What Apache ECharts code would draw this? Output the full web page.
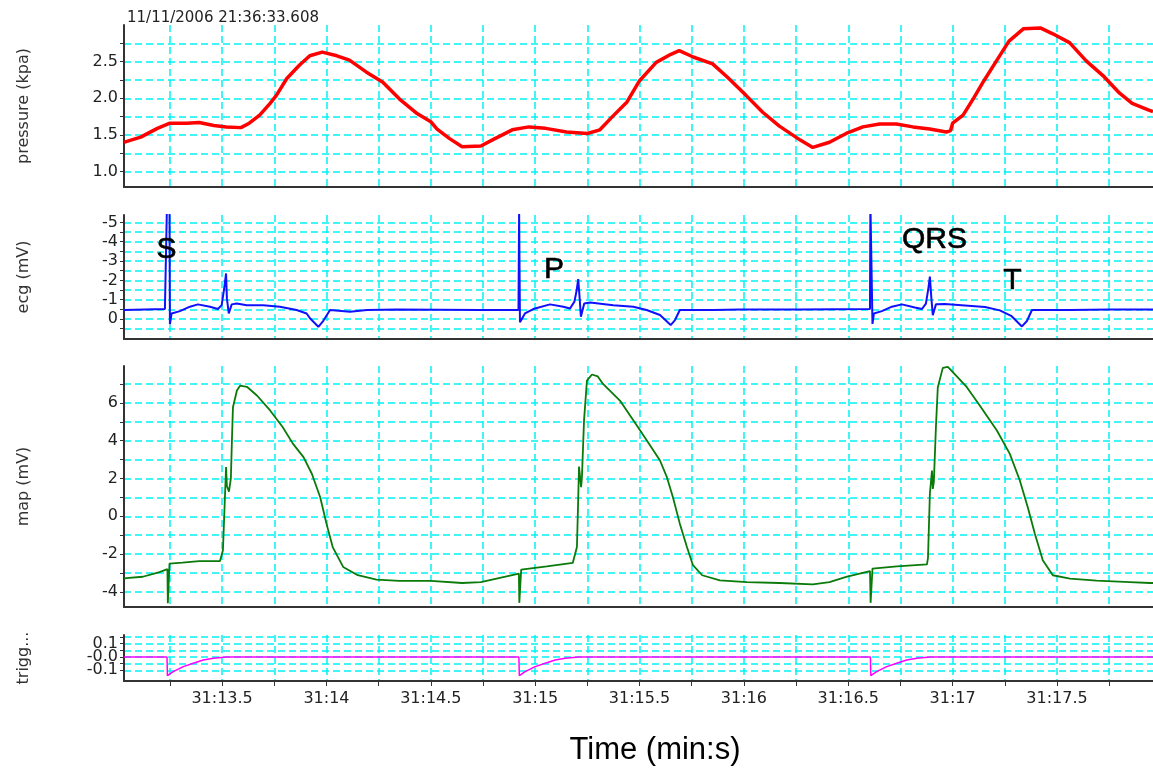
<!DOCTYPE html>
<html>
<head>
<meta charset="utf-8">
<script src="https://cdn.jsdelivr.net/npm/echarts@6/dist/echarts.min.js"></script>
<style>html,body{margin:0;padding:0;background:#fff}#c{width:1153px;height:770px}</style>
</head>
<body>
<div id="c"></div>
<script>
// ---- DATA (time in seconds after 31:00) ----
const timeMin = 13.03, timeMax = 17.96;
const timeGrid = [13.25,13.5,13.75,14,14.25,14.5,14.75,15,15.25,15.5,15.75,16,16.25,16.5,16.75,17,17.25,17.5,17.75];
const timeLabelValues = [13.5,14,14.5,15,15.5,16,16.5,17,17.5];
const timeLabelTexts = ['31:13.5','31:14','31:14.5','31:15','31:15.5','31:16','31:16.5','31:17','31:17.5'];

const pressureTicks = [1,1.25,1.5,1.75,2,2.25,2.5,2.75];
const pressureLabels = [1,1.5,2,2.5];
const ecgTicks = [-5,-4.5,-4,-3.5,-3,-2.5,-2,-1.5,-1,-0.5,0,0.5];
const ecgLabels = [-5,-4,-3,-2,-1,0];
const mapTicks = [-4,-3,-2,-1,0,1,2,3,4,5,6,7];
const mapLabels = [-4,-2,0,2,4,6];
const trigTicks = [0.15,0.1,0.05,0,-0.05,-0.1];
const trigOuterLabels = [0.1,-0.1];
const trigOuterTexts = ['0.1','-0.1'];
const trigMidLabels = [0];
const trigMidTexts = ['-0.0'];

const pressurePoints = [[13.03,1.40],[13.04,1.41],[13.11,1.47],[13.19,1.59],[13.25,1.66],[13.33,1.66],[13.39,1.67],[13.46,1.63],[13.52,1.61],[13.59,1.60],[13.63,1.66],[13.68,1.77],[13.73,1.93],[13.76,2.04],[13.81,2.27],[13.87,2.45],[13.92,2.58],[13.98,2.63],[14.05,2.58],[14.11,2.52],[14.19,2.36],[14.27,2.22],[14.35,1.99],[14.43,1.80],[14.50,1.68],[14.53,1.58],[14.59,1.45],[14.65,1.34],[14.74,1.35],[14.80,1.44],[14.89,1.57],[14.97,1.61],[15.05,1.59],[15.15,1.54],[15.25,1.52],[15.31,1.57],[15.37,1.75],[15.44,1.95],[15.50,2.24],[15.58,2.49],[15.65,2.60],[15.69,2.65],[15.76,2.56],[15.85,2.47],[15.92,2.29],[16.01,2.04],[16.09,1.81],[16.17,1.62],[16.27,1.43],[16.33,1.33],[16.41,1.40],[16.49,1.52],[16.57,1.61],[16.65,1.65],[16.73,1.65],[16.81,1.61],[16.89,1.58],[16.97,1.54],[16.99,1.56],[17.00,1.66],[17.05,1.77],[17.10,2.00],[17.15,2.24],[17.21,2.51],[17.27,2.78],[17.34,2.95],[17.42,2.96],[17.48,2.88],[17.56,2.76],[17.64,2.51],[17.72,2.31],[17.80,2.07],[17.86,1.93],[17.94,1.84],[17.96,1.82]];

const ecgPoints = [[13.03,-0.47],[13.226,-0.52],[13.234,-0.52],[13.236,-6],[13.248,-6],[13.25,0.27],[13.258,-0.29],[13.298,-0.41],[13.346,-0.64],[13.384,-0.76],[13.442,-0.64],[13.48,-0.52],[13.498,-0.72],[13.51,-1.59],[13.519,-2.36],[13.523,-1.07],[13.532,-0.29],[13.546,-0.76],[13.57,-0.81],[13.618,-0.72],[13.697,-0.72],[13.777,-0.64],[13.857,-0.47],[13.905,-0.29],[13.921,-0.04],[13.961,0.4],[13.985,0.09],[14.017,-0.47],[14.113,-0.38],[14.194,-0.47],[14.338,-0.5],[14.735,-0.47],[14.92,-0.47],[14.923,-5.6],[14.927,0.17],[14.951,-0.29],[14.991,-0.52],[15.071,-0.76],[15.135,-0.64],[15.167,-0.55],[15.188,-0.9],[15.199,-1.5],[15.206,-2.07],[15.212,-1.24],[15.219,-0.12],[15.235,-0.81],[15.263,-0.86],[15.374,-0.72],[15.47,-0.64],[15.534,-0.47],[15.598,-0.21],[15.649,0.31],[15.67,0.05],[15.693,-0.47],[15.853,-0.47],[15.981,-0.5],[16.268,-0.5],[16.604,-0.52],[16.606,-6],[16.614,-6],[16.616,0.25],[16.623,-0.29],[16.661,-0.41],[16.709,-0.64],[16.757,-0.76],[16.819,-0.6],[16.853,-0.52],[16.872,-0.8],[16.884,-1.6],[16.891,-2.2],[16.898,-1.1],[16.905,-0.2],[16.92,-0.76],[16.963,-0.78],[17.059,-0.7],[17.155,-0.62],[17.226,-0.45],[17.283,-0.15],[17.332,0.38],[17.356,0.1],[17.38,-0.47],[17.562,-0.47],[17.753,-0.5],[17.96,-0.5]];

const mapPoints = [[13.03,-3.3],[13.04,-3.27],[13.12,-3.2],[13.2,-2.95],[13.238,-2.8],[13.24,-4.6],[13.246,-4.6],[13.248,-2.5],[13.31,-2.45],[13.39,-2.37],[13.49,-2.37],[13.504,-1.8],[13.519,2.6],[13.523,1.6],[13.533,1.3],[13.542,2.0],[13.547,4.0],[13.552,5.77],[13.571,6.65],[13.586,6.91],[13.619,6.85],[13.667,6.39],[13.73,5.6],[13.79,4.72],[13.84,3.83],[13.89,3.13],[13.93,2.25],[13.97,1.01],[14.0,-0.39],[14.03,-1.63],[14.08,-2.68],[14.15,-3.12],[14.24,-3.35],[14.35,-3.42],[14.5,-3.42],[14.65,-3.53],[14.74,-3.48],[14.922,-3.03],[14.924,-4.58],[14.93,-4.58],[14.933,-2.82],[15.056,-2.65],[15.18,-2.47],[15.2,-1.63],[15.206,0.85],[15.21,2.63],[15.22,1.54],[15.224,2.07],[15.234,5.07],[15.248,7.18],[15.272,7.5],[15.3,7.4],[15.325,7.0],[15.406,6.12],[15.487,4.8],[15.535,4.01],[15.598,2.95],[15.631,2.07],[15.66,1.01],[15.693,-0.39],[15.727,-1.63],[15.756,-2.59],[15.8,-3.12],[15.885,-3.39],[16.014,-3.48],[16.17,-3.53],[16.33,-3.6],[16.41,-3.48],[16.49,-3.21],[16.604,-2.9],[16.607,-4.58],[16.613,-4.58],[16.616,-2.77],[16.733,-2.65],[16.877,-2.54],[16.882,-2.2],[16.891,1.19],[16.901,2.42],[16.905,1.45],[16.91,1.81],[16.92,4.72],[16.929,6.83],[16.953,7.85],[16.977,7.9],[17.001,7.62],[17.068,6.83],[17.13,5.86],[17.212,4.54],[17.274,3.3],[17.322,1.89],[17.36,0.48],[17.394,-0.92],[17.432,-2.33],[17.48,-3.12],[17.562,-3.3],[17.69,-3.4],[17.849,-3.48],[17.945,-3.53],[17.96,-3.53]];

const trigPoints = [[13.03,0],[13.236,0],[13.238,-0.14],[13.266,-0.11],[13.314,-0.072],[13.362,-0.047],[13.41,-0.022],[13.458,-0.01],[13.522,0],[14.922,0],[14.924,-0.14],[14.952,-0.11],[15.0,-0.072],[15.048,-0.047],[15.096,-0.022],[15.144,-0.01],[15.208,0],[16.606,0],[16.608,-0.14],[16.636,-0.11],[16.684,-0.072],[16.732,-0.047],[16.78,-0.022],[16.828,-0.01],[16.892,0],[17.96,0]];

const annoTexts = ['S','P','QRS','T'];
const annoTimes = [13.236,15.092,16.915,17.289];
const annoValues = [-3.57,-2.53,-4.09,-1.97];

// ---- CHART ----
const FONT = 'DejaVu Sans';
const GRID_COLOR = '#00f2f2';
const AXIS_COLOR = '#333';
const grids = [
  {left:124,right:0,top:25,height:162},
  {left:124,right:0,top:215,height:124},
  {left:124,right:0,top:366,height:241},
  {left:124,right:0,top:635,height:46}
];
function lookup(values,texts){
  return v=>{const k=values.findIndex(t=>Math.abs(t-v)<1e-6);return k>=0?texts[k]:'';};
}
function xAxisFor(i){
  const last = i === 3;
  return {
    type:'value', gridIndex:i, min:timeMin, max:timeMax,
    axisLine:{show:true,onZero:false,lineStyle:{color:AXIS_COLOR,width:2}},
    axisTick:{show:last,length:5,customValues:timeGrid,lineStyle:{color:AXIS_COLOR,width:1}},
    axisLabel:{show:last,customValues:timeLabelValues,margin:10,fontFamily:FONT,fontSize:16,color:'#222',hideOverlap:false,
      formatter:lookup(timeLabelValues,timeLabelTexts)},
    splitLine:{show:true,lineStyle:{color:GRID_COLOR,type:[7,4],width:1.5}}
  };
}
function yAxisFor(i,name,min,max,ticks,labels,fmt,inverse){
  return {
    type:'value', gridIndex:i, min:min, max:max, inverse:!!inverse,
    name:name, nameLocation:'middle', nameGap:92,
    nameTextStyle:{fontFamily:FONT,fontSize:16,color:'#333'},
    axisLine:{show:true,onZero:false,lineStyle:{color:AXIS_COLOR,width:2}},
    axisTick:{show:true,length:4,customValues:ticks,lineStyle:{color:AXIS_COLOR,width:1}},
    axisLabel:{show:true,customValues:labels,margin:6,fontFamily:FONT,fontSize:16,color:'#222',hideOverlap:false,
      showMinLabel:true,showMaxLabel:true,lineHeight:12,formatter:fmt},
    splitLine:{show:true,lineStyle:{color:GRID_COLOR,type:[7,4],width:1.5}}
  };
}
// extra label-only axis sharing the trigger grid (keeps the middle label from being dropped)
const trigMidAxis = {
  type:'value', gridIndex:3, min:-0.18, max:0.165, position:'left',
  axisLine:{show:false}, axisTick:{show:false}, splitLine:{show:false},
  axisLabel:{show:true,customValues:trigMidLabels,margin:6,fontFamily:FONT,fontSize:16,color:'#222',
    lineHeight:12,formatter:lookup(trigMidLabels,trigMidTexts)}
};
const option = {
  animation:false,
  backgroundColor:'#fff',
  title:{text:'11/11/2006 21:36:33.608',left:122,top:6,textStyle:{fontFamily:FONT,fontSize:15,fontWeight:'normal',color:'#222'}},
  grid:grids,
  xAxis:[0,1,2,3].map(xAxisFor),
  yAxis:[
    yAxisFor(0,'pressure (kpa)',0.79,3.0,pressureTicks,pressureLabels,v=>v.toFixed(1)),
    yAxisFor(1,'ecg (mV)',-5.38,1.03,ecgTicks,ecgLabels,v=>String(Math.round(v)),true),
    yAxisFor(2,'map (mV)',-4.8,7.95,mapTicks,mapLabels,v=>String(Math.round(v))),
    yAxisFor(3,'trigg...',-0.18,0.165,trigTicks,trigOuterLabels,lookup(trigOuterLabels,trigOuterTexts)),
    trigMidAxis
  ],
  series:[
    {type:'line',xAxisIndex:0,yAxisIndex:0,data:pressurePoints,showSymbol:false,clip:true,lineStyle:{color:'#ff0000',width:3.5},itemStyle:{color:'#ff0000'}},
    {type:'line',xAxisIndex:1,yAxisIndex:1,data:ecgPoints,showSymbol:false,clip:true,lineStyle:{color:'#1010ff',width:2},itemStyle:{color:'#1010ff'}},
    {type:'line',xAxisIndex:2,yAxisIndex:2,data:mapPoints,showSymbol:false,clip:true,lineStyle:{color:'#0a7a0a',width:1.8},itemStyle:{color:'#0a7a0a'}},
    {type:'line',xAxisIndex:3,yAxisIndex:3,data:trigPoints,showSymbol:false,clip:true,lineStyle:{color:'#ff00ff',width:1.5},itemStyle:{color:'#ff00ff'}},
    {type:'scatter',xAxisIndex:1,yAxisIndex:1,symbolSize:1,silent:true,z:10,
      itemStyle:{color:'rgba(0,0,0,0)'},
      data:annoTexts.map((s,i)=>({name:s,value:[annoTimes[i],annoValues[i]]})),
      label:{show:true,position:[0,0],align:'center',verticalAlign:'middle',formatter:'{b}',opacity:1,
        fontFamily:'Liberation Sans',fontSize:30,color:'#000',textBorderColor:'#000',textBorderWidth:0.6}}
  ],
  graphic:[{type:'text',x:655,y:750,style:{text:'Time (min:s)',font:'31px "Liberation Sans"',fill:'#000',align:'center',verticalAlign:'middle',textAlign:'center',textVerticalAlign:'middle'}}]
};
const chart = echarts.init(document.getElementById('c'),null,{renderer:'canvas'});
chart.setOption(option);
</script>
</body>
</html>
